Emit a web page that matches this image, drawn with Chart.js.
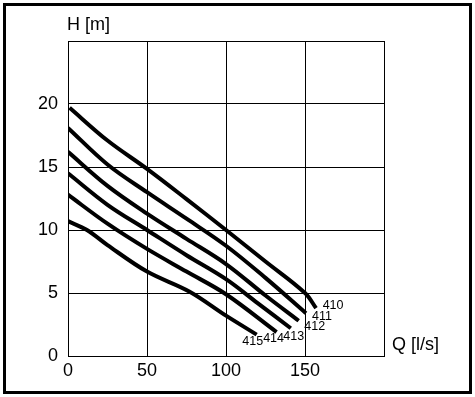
<!DOCTYPE html>
<html>
<head>
<meta charset="utf-8">
<script src="https://cdn.jsdelivr.net/npm/chart.js@4"></script>
<style>
  html, body { margin: 0; padding: 0; background: #fff; }
  #wrap { width: 475px; height: 397px; position: relative; }
</style>
</head>
<body>
<div id="wrap"><canvas id="chart"></canvas></div>
<script>
// pump curves, Q [l/s] vs H [m]
const curveNames = ['410', '411', '412', '413', '414', '415'];
const q410 = [1, 25, 50, 75, 100, 125, 150, 157];
const h410 = [19.7, 17.1, 14.85, 12.45, 10.0, 7.5, 5.0, 3.8];
const q411 = [0, 25, 50, 75, 100, 125, 150.6];
const h411 = [18.1, 15.2, 13.0, 10.9, 8.75, 6.2, 3.4];
const q412 = [0, 25, 50, 75, 100, 125, 146];
const h412 = [16.2, 13.5, 11.3, 9.3, 7.3, 4.8, 2.8];
const q413 = [0, 25, 50, 75, 100, 120, 141];
const h413 = [14.5, 12.0, 10.0, 8.0, 6.1, 4.2, 2.2];
const q414 = [0, 25, 50, 75, 100, 132];
const h414 = [12.8, 10.5, 8.5, 6.7, 4.9, 1.9];
const q415 = [0, 12, 25, 50, 77, 100, 119.4];
const h415 = [10.7, 10.0, 8.8, 6.7, 5.1, 3.2, 1.7];

const qList = [q410, q411, q412, q413, q414, q415];
const hList = [h410, h411, h412, h413, h414, h415];

// label offsets (px) from each curve's end point
const labelShift = [[17, -3], [16, 3], [16, 6], [3, 8], [-3, 6], [-4, 7]];

const FONT = 'Liberation Sans, Arial, sans-serif';

const datasets = curveNames.map((name, i) => ({
    label: name,
    data: qList[i].map((q, j) => ({ x: q, y: hList[i][j] })),
    borderColor: '#000',
    borderWidth: 4,
    pointRadius: 0,
    fill: false,
    tension: 0.35,
    borderCapStyle: 'butt'
}));

const extras = {
    id: 'extras',
    beforeDraw(chart) {
        const ctx = chart.ctx;
        ctx.save();
        ctx.fillStyle = '#fff';
        ctx.fillRect(0, 0, chart.width, chart.height);
        ctx.restore();
    },
    afterDraw(chart) {
        const ctx = chart.ctx;
        const a = chart.chartArea;
        ctx.save();
        // outer frame
        ctx.strokeStyle = '#000';
        ctx.lineWidth = 3;
        ctx.strokeRect(4.5, 4.5, chart.width - 9, chart.height - 9);
        // axis titles
        ctx.fillStyle = '#000';
        ctx.font = '18px ' + FONT;
        ctx.textAlign = 'left';
        ctx.textBaseline = 'middle';
        ctx.fillText('H [m]', a.left - 1, a.top - 16);
        ctx.fillText('Q [l/s]', a.right + 8, a.bottom - 11);
        // curve labels
        ctx.font = '12.5px ' + FONT;
        ctx.textAlign = 'center';
        chart.data.datasets.forEach((ds, i) => {
            const meta = chart.getDatasetMeta(i);
            const last = meta.data[meta.data.length - 1];
            ctx.fillText(ds.label, last.x + labelShift[i][0], last.y + labelShift[i][1]);
        });
        ctx.restore();
    }
};

new Chart(document.getElementById('chart'), {
    type: 'line',
    data: { datasets: datasets },
    options: {
        responsive: true,
        maintainAspectRatio: false,
        animation: false,
        layout: { padding: { left: 0, top: 41, right: 91, bottom: 0 } },
        plugins: {
            legend: { display: false },
            tooltip: { enabled: false }
        },
        scales: {
            x: {
                type: 'linear',
                min: 0,
                max: 200,
                afterFit: (s) => { s.height = 41; },
                ticks: {
                    stepSize: 50,
                    color: '#000',
                    padding: 4,
                    maxRotation: 0,
                    font: { size: 18, family: FONT },
                    callback: (v) => (v === 200 ? '' : v)
                },
                grid: { color: '#000', lineWidth: 1, drawTicks: false },
                border: { color: '#000', width: 1 }
            },
            y: {
                min: 0,
                max: 25,
                afterFit: (s) => { s.width = 68; },
                ticks: {
                    stepSize: 5,
                    color: '#000',
                    padding: 10,
                    font: { size: 18, family: FONT },
                    callback: (v) => (v === 25 ? '' : v)
                },
                grid: { color: '#000', lineWidth: 1, drawTicks: false },
                border: { color: '#000', width: 1 }
            }
        }
    },
    plugins: [extras]
});
</script>
</body>
</html>
